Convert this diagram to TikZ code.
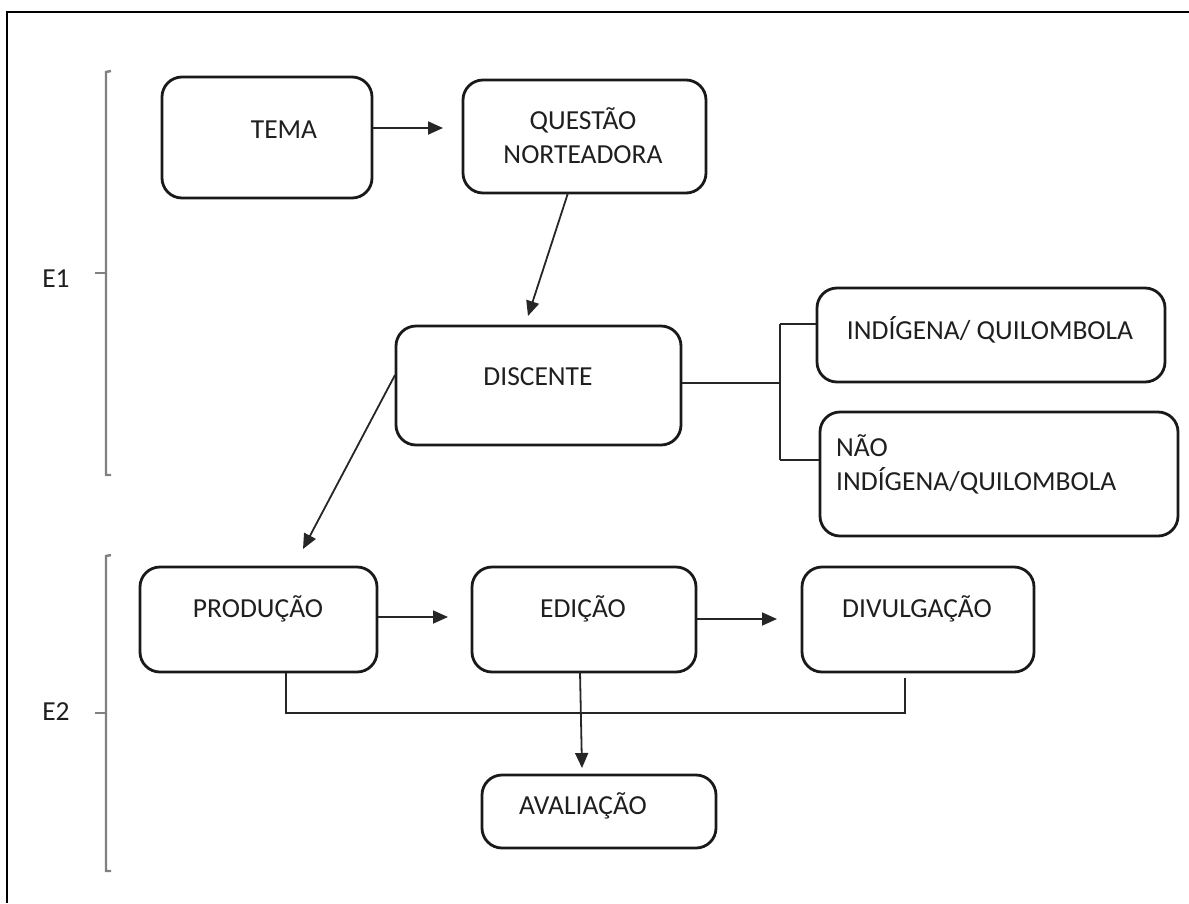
\documentclass[tikz,border=0pt]{standalone}
\usepackage{fontspec}
\setmainfont{Carlito}
\usetikzlibrary{arrows.meta,calc}
\tikzset{
  box/.style={draw=black!90, line width=2.8pt, rounded corners=20pt, inner sep=0pt},
  txt/.style={inner sep=0pt, text=black!88, font=\fontsize{27.5}{34}\selectfont},
  conn/.style={line width=1.8pt, draw=black!85},
  arr/.style={conn, -{Triangle[length=15pt,width=13pt]}},
  brk/.style={line width=2.4pt, draw=black!50},
  frame/.style={line width=2.8pt, draw=black}
}
\begin{document}
\begin{tikzpicture}[x=1pt,y=-1pt]
\useasboundingbox (0,0) rectangle (1189,903);
% frame
\coordinate (f0) at (7,12);
\coordinate (f1) at (1189,12);
\coordinate (f2) at (7,903);
\draw[frame] (f1) -- (f0) -- (f2);
% brackets
\coordinate (b1t) at (106,72);
\coordinate (b1b) at (106,475);
\coordinate (b1m) at (106,273);
\coordinate (b1k) at (95,273);
\draw[brk] ($(b1t)+(5,-1)$) -- (b1t) -- (b1b) -- ++(5,0);
\draw[brk] (b1k) -- (b1m);
\node[txt] (e1) at (56,279) {E1};
\coordinate (b2t) at (106,556);
\coordinate (b2b) at (106,871);
\coordinate (b2m) at (106,713);
\coordinate (b2k) at (95,713);
\draw[brk] ($(b2t)+(5,-1)$) -- (b2t) -- (b2b) -- ++(5,0);
\draw[brk] (b2k) -- (b2m);
\node[txt] (e2) at (56,712) {E2};
% boxes
\node[box, minimum width=210pt, minimum height=121pt] (tema) at (267,137.5) {};
\node[box, minimum width=243pt, minimum height=113pt] (qn) at (584.5,136.5) {};
\node[box, minimum width=285pt, minimum height=119pt] (disc) at (538.5,385.5) {};
\node[box, minimum width=348pt, minimum height=94pt] (ind) at (991,335) {};
\node[box, minimum width=358pt, minimum height=124pt] (nind) at (999,474) {};
\node[box, minimum width=237pt, minimum height=105pt] (prod) at (258.5,619.5) {};
\node[box, minimum width=224pt, minimum height=105pt] (edic) at (584,619.5) {};
\node[box, minimum width=232pt, minimum height=105pt] (divu) at (918,619.5) {};
\node[box, minimum width=234pt, minimum height=73pt] (aval) at (599,811.5) {};
% texts
\node[txt] (tTema) at (284,130) {TEMA};
\node[txt, align=center] (tQn) at (583,136) {QUESTÃO\\NORTEADORA};
\node[txt] (tDisc) at (538,377) {DISCENTE};
\node[txt] (tInd) at (990,330) {INDÍGENA/ QUILOMBOLA};
\node[txt, anchor=west, align=left] (tNind) at (836,464) {NÃO\\INDÍGENA/QUILOMBOLA};
\node[txt] (tProd) at (258,609) {PRODUÇÃO};
\node[txt] (tEdic) at (583,609) {EDIÇÃO};
\node[txt] (tDivu) at (917,609) {DIVULGAÇÃO};
\node[txt] (tAval) at (583,806) {AVALIAÇÃO};
% connectors
\draw[arr] (tema.east |- 0,128) -- (443,128);
\draw[arr] (568,193) -- (528,316);
\coordinate (j) at (780,383);
\draw[conn] (disc.east |- j) -- (j);
\draw[conn] (780,324) -- (780,460);
\draw[conn] (780,324) -- (ind.west |- 0,324);
\draw[conn] (780,460) -- (nind.west |- 0,460);
\draw[arr] (395,375) -- (303,549);
\draw[arr] (prod.east |- 0,617) -- (448,617);
\draw[arr] (edic.east |- 0,619) -- (777,619);
\coordinate (bl) at (286,713);
\coordinate (br) at (905,713);
\draw[conn] (prod.south -| bl) -- (bl) -- (br) -- (905,678);
\draw[arr] (580,672) -- (582,768);
\end{tikzpicture}
\end{document}
